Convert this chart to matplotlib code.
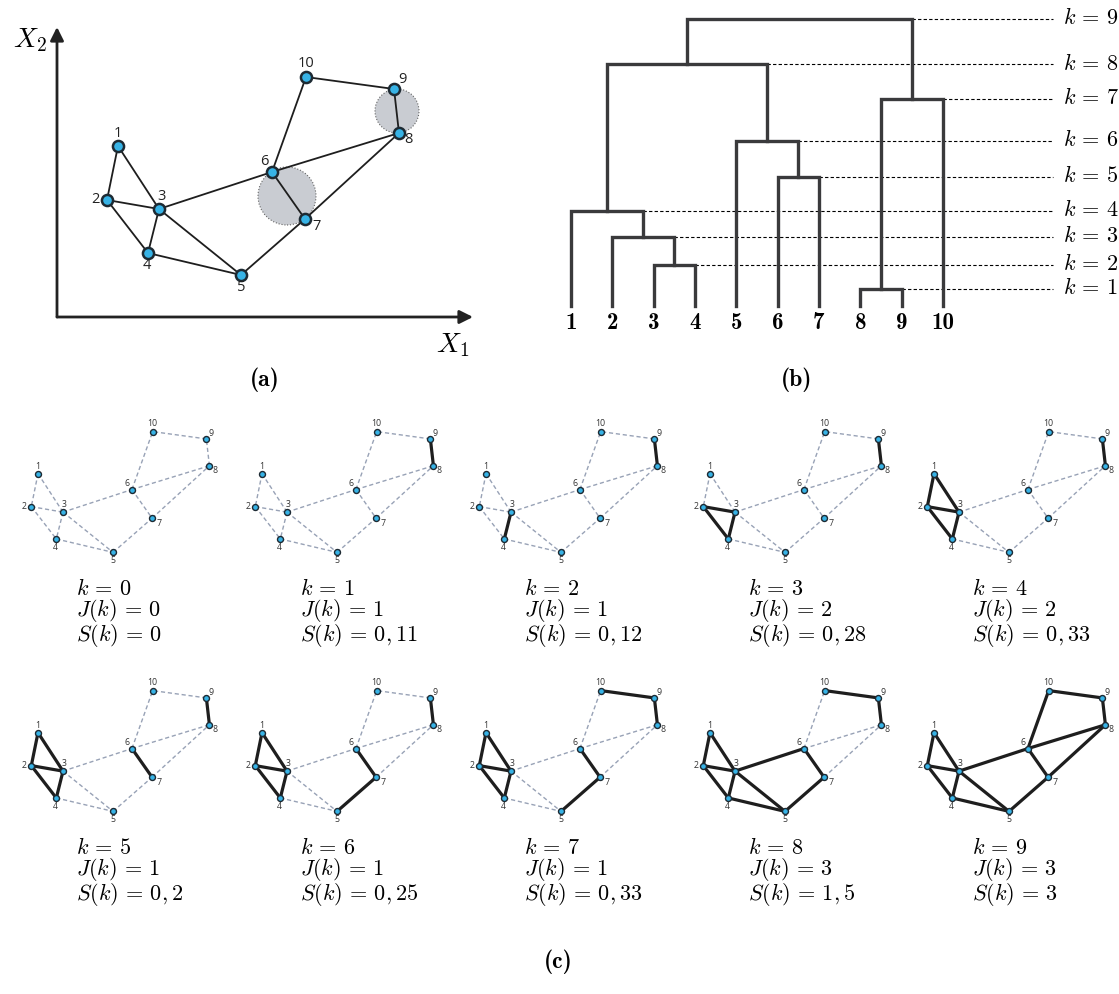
import numpy as np
import matplotlib.pyplot as plt
from matplotlib.patches import Circle

plt.rcParams['mathtext.fontset'] = 'cm'
plt.rcParams['font.family'] = ['Open Sans', 'DejaVu Sans']

W, H = 1119, 994

# graph nodes (X1, X2) and edges
node_x = [61, 50, 102, 91, 184, 215, 248, 342, 337, 249]
node_y = [171, 117, 108, 64, 42, 145, 98, 184, 228, 240]
node_labels = ['1', '2', '3', '4', '5', '6', '7', '8', '9', '10']
edges = [(1, 2), (1, 3), (2, 3), (2, 4), (3, 4), (3, 5), (4, 5), (3, 6),
         (6, 7), (5, 7), (6, 10), (6, 8), (7, 8), (8, 9), (9, 10)]

# dendrogram merges: leaves 0..9, new clusters numbered from 10
merge_a = [7, 2, 1, 0, 5, 4, 10, 13, 17]
merge_b = [8, 3, 11, 12, 6, 14, 9, 15, 16]
merge_h = [17, 41, 69, 95, 129, 165, 207, 242, 287]

J_vals = [0, 1, 1, 2, 2, 1, 1, 1, 3, 3]
S_vals = ['0', '0,11', '0,12', '0,28', '0,33', '0,2', '0,25', '0,33', '1,5', '3']

# shaded circles in (a)
circ_x = [230, 340]
circ_y = [121, 206]
circ_r = [29, 22]

# label offsets (pixels) around each node
lab_dx = [0, -12, 2, -1, 0, -8, 12, 9, 8, 0]
lab_dy = [12, 0, 12, -13, -13, 10, -8, -7, 9, 13]

node_face = '#37b3e6'
node_edge = '#1d2a33'
dark = '#1e1e1e'
EQ = r'\,=\,'


def fig_axes(x0, y0, x1, y1):
    # pixel box (top-left origin) -> figure axes
    return fig.add_axes([x0 / W, 1 - y1 / H, (x1 - x0) / W, (y1 - y0) / H])


fig = plt.figure(figsize=(W / 100, H / 100), dpi=100)

# ---------------- (a) ----------------
axa = fig_axes(57, 27, 473, 317)
axa.set_xlim(0, 416)
axa.set_ylim(0, 290)
axa.axis('off')
for cx, cy, r in zip(circ_x, circ_y, circ_r):
    axa.add_patch(Circle((cx, cy), r, facecolor='#c9ccd2', edgecolor='#666666',
                         lw=0.8, ls=':', zorder=1))
for a, b in edges:
    axa.plot([node_x[a - 1], node_x[b - 1]], [node_y[a - 1], node_y[b - 1]],
             color=dark, lw=1.3, zorder=2)
axa.plot(node_x, node_y, 'o', ms=8, mfc=node_face, mec=node_edge, mew=1.8, zorder=3)
for i, lab in enumerate(node_labels):
    axa.annotate(lab, (node_x[i], node_y[i]), xytext=(lab_dx[i], lab_dy[i]),
                 textcoords='offset pixels', ha='center', va='center',
                 fontsize=10.5, color='#222222')
arrow = dict(arrowstyle='-|>', lw=2, color='#222222', mutation_scale=20,
             shrinkA=0, shrinkB=0)
axa.annotate('', xy=(416, 0), xytext=(0, 0), arrowprops=arrow, annotation_clip=False)
axa.annotate('', xy=(0, 290), xytext=(0, 0), arrowprops=arrow, annotation_clip=False)
fig.text(30 / W, 1 - 40 / H, r'$X_2$', fontsize=20, ha='center', va='center')
fig.text(453 / W, 1 - 345 / H, r'$X_1$', fontsize=20, ha='center', va='center')
fig.text(265 / W, 1 - 380 / H, '(a)', family='cmb10', fontsize=17, ha='center', va='center')

# ---------------- (b) ----------------
axb = fig_axes(540, 0, 1119, 340)
axb.set_xlim(0.25, 14.26)
axb.set_ylim(-34, 306)
axb.axis('off')
pos = {i: i + 1.0 for i in range(10)}
hgt = {i: 0.0 for i in range(10)}
for k, (a, b, h) in enumerate(zip(merge_a, merge_b, merge_h)):
    xa, xb = pos[a], pos[b]
    axb.plot([xa, xa, xb, xb], [hgt[a], h, h, hgt[b]], color='#3a3a3c', lw=2.4,
             solid_joinstyle='miter', zorder=3)
    axb.plot([max(xa, xb), 12.66], [h, h], color='black', lw=0.8, ls=(0, (3, 2)), zorder=2)
    axb.text(12.9, h, r'$k%s%d$' % (EQ, k + 1), fontsize=16, ha='left', va='center')
    pos[10 + k] = (xa + xb) / 2
    hgt[10 + k] = h
for i, lab in enumerate(node_labels):
    axb.text(i + 1, -17, lab, family='cmb10', fontsize=16.5, ha='center', va='center')
fig.text(797 / W, 1 - 380 / H, '(b)', family='cmb10', fontsize=17, ha='center', va='center')

# ---------------- (c) ----------------
# cluster of each leaf after k merges
def clusters_at(k):
    members = {i: {i} for i in range(10)}
    for j in range(k):
        members[10 + j] = members[merge_a[j]] | members[merge_b[j]]
        del members[merge_a[j]], members[merge_b[j]]
    lab = {}
    for c, s in members.items():
        for i in s:
            lab[i] = c
    return lab


sc = 0.61
for k in range(10):
    r, c = divmod(k, 5)
    ox, oy = 0.8 + 224 * c, 578 + 259 * r
    ax = fig_axes(ox, oy - 255 * sc, ox + 360 * sc, oy)
    ax.set_xlim(0, 360)
    ax.set_ylim(0, 255)
    ax.axis('off')
    lab = clusters_at(k)
    for a, b in edges:
        xs = [node_x[a - 1], node_x[b - 1]]
        ys = [node_y[a - 1], node_y[b - 1]]
        if lab[a - 1] == lab[b - 1]:
            ax.plot(xs, ys, color=dark, lw=2.3, zorder=3, solid_capstyle='round')
        else:
            ax.plot(xs, ys, color='#98a2b6', lw=1.0, ls=(0, (3, 2)), zorder=2)
    ax.plot(node_x, node_y, 'o', ms=4.3, mfc=node_face, mec=node_edge, mew=1.0, zorder=4)
    for i, t in enumerate(node_labels):
        ax.annotate(t, (node_x[i], node_y[i]), xytext=(lab_dx[i] * 0.62, lab_dy[i] * 0.62),
                    textcoords='offset pixels', ha='center', va='center',
                    fontsize=6.3, color='#333333')
    tx = (76 + 224 * c) / W
    base = 597 + 259 * r
    block = '\n'.join([r'$k%s%d$' % (EQ, k),
                       r'$J(k)%s%d$' % (EQ, J_vals[k]),
                       r'$S(k)%s%s$' % (EQ, S_vals[k])])
    fig.text(tx, 1 - (base + 44) / H, block, fontsize=16, ha='left', va='baseline',
             linespacing=0.88)
fig.text(558 / W, 1 - 962 / H, '(c)', family='cmb10', fontsize=17, ha='center', va='center')

fig.savefig('out.png', dpi=100)
